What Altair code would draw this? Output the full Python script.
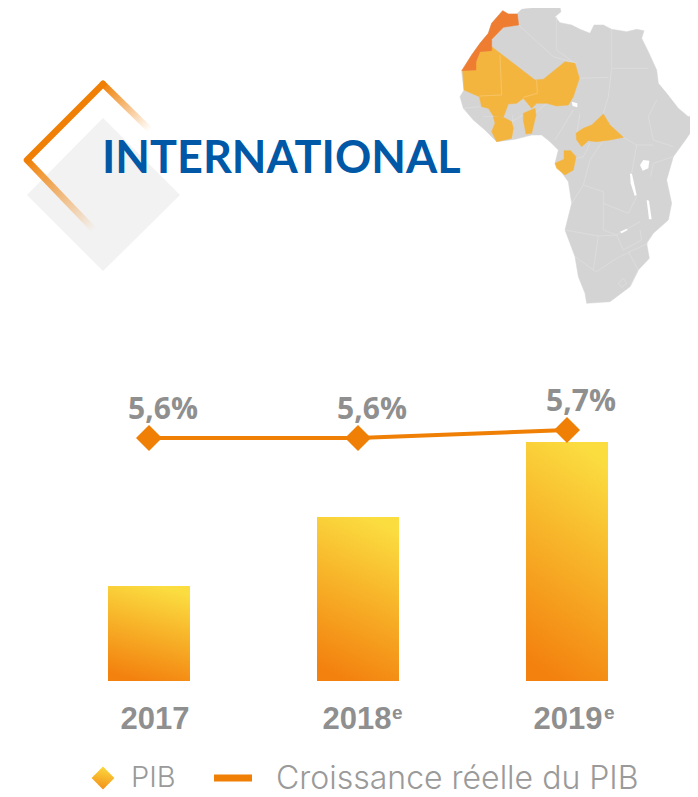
import altair as alt
import pandas as pd

years = ["2017", "2018", "2019"]
pib_bars = [95, 164, 239]
croissance = [5.6, 5.6, 5.7]
croissance_labels = ["5,6%", "5,6%", "5,7%"]

GREY_MAP = "#D5D4D4"
YELLOW_MAP = "#F4B53F"
ORANGE_MAP = "#EE7D31"
ORANGE = "#EF7F05"

# Outlines (3x crop coordinates of the map)
africa = [(188,32),(205,42),(230,42),(245,28),(290,22),(330,18),(358,14),(363,35),(345,50),(360,68),(395,75),(420,88),(450,100),(462,75),(490,75),(515,88),(560,95),(590,88),(612,92),(605,115),(625,155),(650,210),(655,250),(680,280),(715,325),(745,350),(774,342),(770,370),(740,415),(700,470),(680,540),(695,610),(685,660),(640,700),(620,730),(628,775),(595,810),(570,860),(510,905),(440,910),(435,880),(415,830),(405,770),(375,690),(395,610),(385,545),(345,490),(355,450),(330,425),(305,405),(275,405),(225,418),(170,425),(135,390),(100,360),(70,325),(60,290),(72,270),(65,215),(95,165),(120,130),(145,100),(155,70)]
morocco = [(188,32),(205,42),(232,42),(236,75),(190,82),(155,118),(155,152),(120,155),(108,185),(108,210),(65,212),(95,165),(120,130),(145,100),(155,70)]
sahel = [(155,140),(285,240),(310,238),(375,185),(405,190),(418,235),(400,290),(385,315),(350,318),(320,310),(290,310),(275,325),(250,295),(230,310),(205,312),(190,352),(160,348),(145,325),(125,320),(118,290),(72,270),(68,212),(108,210),(108,185),(120,155),(155,152)]
ivory = [(160,350),(190,352),(215,365),(220,385),(215,415),(170,425),(155,395),(165,370)]
benin_togo = [(250,340),(285,325),(288,345),(275,400),(258,402),(250,360)]
car = [(408,400),(430,385),(455,375),(490,342),(510,375),(550,412),(510,420),(470,425),(445,422),(425,440),(410,420)]
gabon = [(345,490),(372,478),(372,452),(392,452),(408,470),(400,510),(375,525),(350,505)]
lakes = [
    [(600,495),(610,480),(628,482),(625,505),(608,512)],
    [(570,520),(576,522),(590,585),(584,588),(572,550)],
    [(620,600),(627,602),(635,658),(627,658)],
    [(395,305),(412,310),(412,322),(398,318)],
    [(540,695),(560,686),(563,690),(545,700)],
]
borders = [
    [(236,75),(340,170),(410,190)],[(350,50),(350,150),(405,190)],[(515,88),(515,205),(505,290)],
    [(515,205),(625,205)],[(418,235),(505,232)],[(505,290),(490,340)],[(550,412),(590,435),(640,435)],
    [(650,300),(625,350),(640,420),(700,440)],[(590,435),(575,520)],[(700,470),(640,490),(632,530)],
    [(395,610),(430,555),(490,575),(490,610),(565,640),(590,590)],[(490,610),(490,690),(530,705),(600,665)],
    [(375,690),(475,708),(530,705)],[(475,708),(460,810),(470,815),(530,775),(570,755),(625,730)],
    [(405,770),(460,810)],[(530,705),(550,750),(605,720),(600,690)],[(345,490),(430,470),(450,430)],
    [(400,330),(345,420)],[(285,340),(320,310)],[(215,365),(250,345)],[(130,350),(160,350)],
    [(70,325),(120,320)],[(218,345),(218,415)],[(420,340),(410,400)],[(570,860),(595,810),(565,755)],
    [(535,850),(550,835),(560,850),(545,862),(535,850)],[(490,420),(450,480),(430,555)],
]
mauritania_mali = [(180,165),(185,285),(118,288)]
mali_niger = [(290,240),(292,280),(250,292)]
deco_grey_diamond = [(103,118),(180,195),(103,271),(27,195)]
deco_left_arm = [(103,84),(27,160)]
deco_right_arm = [(103,84),(150,130)]
deco_low_arm = [(27,160),(94,230)]

W, H = 682, 789


def to_page(points):
    return [[440 + x / 3, y / 3] for x, y in points]


def polygon(points):
    ring = [list(p) for p in points] + [list(points[0])]
    return {"type": "Feature", "properties": {},
            "geometry": {"type": "Polygon", "coordinates": [ring]}}


def lines(groups):
    return {"type": "Feature", "properties": {},
            "geometry": {"type": "MultiLineString", "coordinates": groups}}


def line(points):
    return {"type": "Feature", "properties": {},
            "geometry": {"type": "LineString", "coordinates": [list(p) for p in points]}}


def geo(features, **mark):
    return alt.Chart(alt.Data(values=features)).mark_geoshape(**mark).encode().project(
        type="identity", scale=1, translate=[-8, -8])


def fade():
    return alt.Gradient(gradient="linear", x1=0, y1=0, x2=1, y2=1, stops=[
        alt.GradientStop(color=ORANGE, offset=0),
        alt.GradientStop(color="rgba(239,127,5,0.45)", offset=0.55),
        alt.GradientStop(color="rgba(239,127,5,0)", offset=1),
    ])


bar_fill = alt.Gradient(gradient="linear", x1=0.62, y1=0, x2=0.38, y2=1, stops=[
    alt.GradientStop(color="#FBDD40", offset=0),
    alt.GradientStop(color="#F3810E", offset=1),
])
diamond_fill = alt.Gradient(gradient="linear", x1=0.6, y1=0, x2=0.4, y2=1, stops=[
    alt.GradientStop(color="#FBD93E", offset=0),
    alt.GradientStop(color="#F3901A", offset=1),
])

df = pd.DataFrame({"year": years, "bar": pib_bars, "growth": croissance, "label": croissance_labels})

x_scale = alt.Scale(domain=years, range=[36.5, 663.5], paddingInner=0.6077, paddingOuter=0.30385)
x_enc = alt.X("year:N", scale=x_scale, axis=None, sort=years)
# one unit of the bar series is one pixel; the baseline sits at page y = 681
y_bar = alt.Y("bar:Q", scale=alt.Scale(domain=[681 - 8 - H, 673], nice=False, zero=False), axis=None)
# 0.1 point of growth is 8 pixels; 5.6 sits at page y = 438
y_line = alt.Y("growth:Q", scale=alt.Scale(domain=[5.6 - (H + 8 - 438) / 80, 5.6 + 430 / 80],
                                           nice=False, zero=False), axis=None)

base = alt.Chart(alt.Data(values=df.to_dict("records")))
bars = base.mark_bar(color=bar_fill).encode(x=x_enc, y=y_bar, y2=alt.datum(0))
growth_line = base.mark_line(color=ORANGE, strokeWidth=4).encode(x=x_enc, y=y_line)
growth_pts = base.mark_point(shape="diamond", filled=True, size=676, color=ORANGE, opacity=1).encode(x=x_enc, y=y_line)
growth_txt = base.mark_text(font="Open Sans", fontWeight="bold", fontSize=30, color="#8F8F8F", dx=14, dy=-28).encode(
    x=x_enc, y=y_line, text="label:N")


def text(string, x, y, align="left", **style):
    return alt.Chart(alt.Data(values=[{}])).mark_text(text=string, align=align, **style).encode(
        x=alt.value(x - 8), y=alt.value(y - 8))


YEAR = dict(font="Liberation Sans", fontWeight="bold", color="#8F8F8F")
year_txt = [text(years[0], 155, 720, "center", fontSize=31, **YEAR),
            text(years[1], 357, 720, "center", fontSize=31, **YEAR),
            text(years[2], 568, 720, "center", fontSize=31, **YEAR)]
sup18 = text("e", 392, 713, fontSize=19, **YEAR)
sup19 = text("e", 604, 713, fontSize=19, **YEAR)
title = text("INTERNATIONAL", 102, 159, font="Lato", fontWeight="bold", fontSize=45, color="#0058A6")
leg_pib = text("PIB", 131, 778, font="Inter", fontWeight=300, fontSize=29, color="#9A9A9A")
leg_growth = text("Croissance réelle du PIB", 276, 779, font="Inter", fontWeight=300, fontSize=32, color="#9A9A9A")
leg_diamond = alt.Chart(alt.Data(values=[{}])).mark_point(
    shape="diamond", filled=True, size=520, fill=diamond_fill, opacity=1
).encode(x=alt.value(103 - 8), y=alt.value(778 - 8))
leg_dash = alt.Chart(alt.Data(values=[{}])).mark_rule(color=ORANGE, strokeWidth=7).encode(
    x=alt.value(214 - 8), x2=alt.value(252 - 8), y=alt.value(778 - 8))

layers = [
    geo([polygon(deco_grey_diamond)], fill="#F2F2F2", stroke=None),
    geo([line(deco_right_arm)], filled=False, stroke=fade(), strokeWidth=6.5, strokeCap="round"),
    geo([line(deco_low_arm)], filled=False, stroke=fade(), strokeWidth=6.5),
    geo([line(deco_left_arm)], filled=False, stroke=ORANGE, strokeWidth=6.5, strokeCap="round"),
    geo([polygon(to_page(africa))], fill=GREY_MAP, stroke=GREY_MAP, strokeWidth=0.5),
    geo([lines([to_page(b) for b in borders])], filled=False, stroke="#E0E0E0", strokeWidth=0.7),
    geo([polygon(to_page(p)) for p in lakes], fill="white", stroke=None),
    geo([polygon(to_page(p)) for p in [sahel, ivory, benin_togo, car, gabon]], fill=YELLOW_MAP, stroke=YELLOW_MAP, strokeWidth=0.5),
    geo([lines([to_page(mauritania_mali), to_page(mali_niger)])], filled=False, stroke="#F7C76E", strokeWidth=0.8),
    geo([polygon(to_page(morocco))], fill=ORANGE_MAP, stroke=ORANGE_MAP, strokeWidth=0.5),
    title, bars, growth_line, growth_pts, growth_txt, *year_txt, sup18, sup19,
    leg_diamond, leg_pib, leg_dash, leg_growth,
]

chart = alt.layer(*layers).resolve_scale(y="independent").properties(
    width=W, height=H, padding=0, autosize=alt.AutoSizeParams(type="none"),
).configure_view(stroke=None)

chart.save("out.html", embed_options={"renderer": "svg", "actions": False})
